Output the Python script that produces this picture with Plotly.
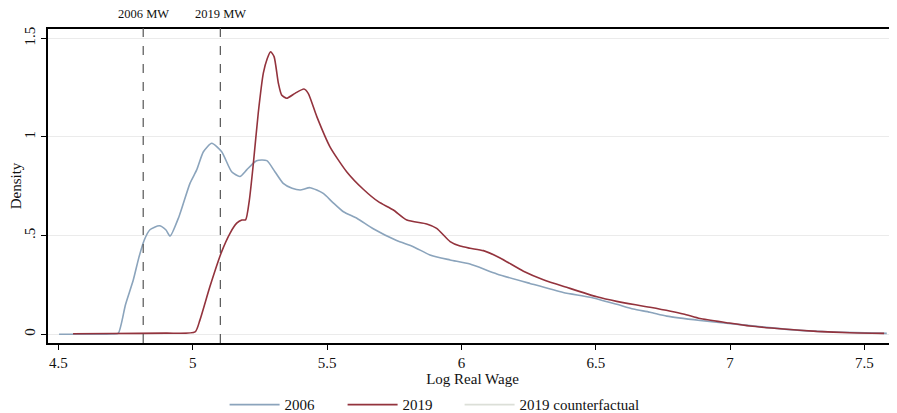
import plotly.graph_objects as go

x2006 = [4.503, 4.60, 4.70, 4.723, 4.75, 4.779, 4.80, 4.820, 4.841, 4.876, 4.90, 4.916, 4.949, 4.99, 5.015, 5.04, 5.071, 5.108, 5.145, 5.176, 5.201, 5.238, 5.276, 5.306, 5.337, 5.37, 5.40, 5.437, 5.486, 5.52, 5.561, 5.611, 5.672, 5.759, 5.821, 5.883, 5.958, 6.032, 6.132, 6.255, 6.379, 6.479, 6.578, 6.64, 6.702, 6.764, 6.888, 7.012, 7.136, 7.26, 7.384, 7.583]
y2006 = [0.0, 0.0, 0.002, 0.005, 0.15, 0.275, 0.39, 0.478, 0.53, 0.55, 0.53, 0.498, 0.596, 0.765, 0.833, 0.925, 0.968, 0.925, 0.824, 0.80, 0.833, 0.88, 0.88, 0.824, 0.765, 0.74, 0.731, 0.743, 0.714, 0.67, 0.621, 0.588, 0.535, 0.475, 0.444, 0.402, 0.377, 0.356, 0.306, 0.258, 0.212, 0.188, 0.152, 0.128, 0.112, 0.092, 0.07, 0.053, 0.035, 0.02, 0.012, 0.005]

x2019 = [4.555, 4.7, 4.9, 5.009, 5.027, 5.064, 5.108, 5.139, 5.164, 5.183, 5.197, 5.211, 5.226, 5.244, 5.263, 5.278, 5.29, 5.303, 5.319, 5.331, 5.35, 5.381, 5.414, 5.43, 5.462, 5.511, 5.573, 5.635, 5.691, 5.747, 5.797, 5.871, 5.908, 5.958, 5.995, 6.032, 6.082, 6.144, 6.231, 6.305, 6.392, 6.504, 6.578, 6.702, 6.826, 6.888, 6.987, 7.074, 7.198, 7.322, 7.446, 7.573]
y2019 = [0.003, 0.004, 0.006, 0.012, 0.072, 0.241, 0.419, 0.512, 0.563, 0.579, 0.58, 0.68, 0.867, 1.12, 1.323, 1.399, 1.432, 1.407, 1.272, 1.213, 1.196, 1.221, 1.243, 1.221, 1.103, 0.95, 0.824, 0.735, 0.672, 0.63, 0.579, 0.559, 0.537, 0.47, 0.447, 0.436, 0.424, 0.387, 0.32, 0.277, 0.238, 0.19, 0.167, 0.137, 0.103, 0.08, 0.059, 0.042, 0.027, 0.015, 0.008, 0.005]

mw_values = [4.816, 5.103]
mw_labels = ["2006 MW", "2019 MW"]

x_ticks = [4.5, 5, 5.5, 6, 6.5, 7, 7.5]
x_ticklabels = ["4.5", "5", "5.5", "6", "6.5", "7", "7.5"]
y_ticks = [0, 0.5, 1, 1.5]
y_ticklabels = ["0", ".5", "1", "1.5"]

FONT = "Liberation Serif"
BLUE = "#8ba4bc"
RED = "#93333d"
CF = "#dcdfd8"

fig = go.Figure()
fig.add_trace(go.Scatter(x=x2006, y=y2006, mode="lines", name="2006",
                         line=dict(color=BLUE, width=1.6, shape="spline", smoothing=0.6)))
fig.add_trace(go.Scatter(x=x2019, y=y2019, mode="lines", name="2019",
                         line=dict(color=RED, width=1.6, shape="spline", smoothing=0.6)))
fig.add_trace(go.Scatter(x=[None], y=[None], mode="lines", name="2019 counterfactual",
                         legend="legend2", line=dict(color=CF, width=1.6)))

for v, lab in zip(mw_values, mw_labels):
    fig.add_shape(type="line", x0=v, x1=v, xref="x", y0=0, y1=1.02, yref="paper",
                  line=dict(color="#555555", width=1.2, dash="dash"))
    fig.add_annotation(x=v, xref="x", y=1.047, yref="paper", text=lab, showarrow=False,
                       yanchor="middle", xanchor="center", borderpad=0,
                       font=dict(family=FONT, size=12.5, color="#111111"))

# the page body has an 8px margin, so the figure is sized to fill the remaining window
fig.update_layout(
    width=889, height=405,
    margin=dict(l=40, r=0, t=21, b=70, autoexpand=False),
    paper_bgcolor="white", plot_bgcolor="white",
    font=dict(family=FONT, size=15, color="#111111"),
    showlegend=True,
    legend=dict(orientation="h", x=0.208, xanchor="left", y=-0.197, yanchor="middle",
                font=dict(family=FONT, size=15), itemwidth=50,
                entrywidth=53, entrywidthmode="pixels", traceorder="normal"),
    legend2=dict(orientation="h", x=0.4848, xanchor="left", y=-0.197, yanchor="middle",
                 font=dict(family=FONT, size=15), itemwidth=50),
    xaxis=dict(range=[4.4617, 7.621], tickvals=x_ticks, ticktext=x_ticklabels,
               showline=True, linecolor="black", linewidth=1.5, mirror=True,
               ticks="outside", ticklen=5, tickcolor="black", showgrid=False, zeroline=False,
               automargin=False,
               title=dict(text="Log Real Wage", standoff=0, font=dict(family=FONT, size=15))),
    yaxis=dict(range=[-0.044, 1.547], tickvals=y_ticks, ticktext=y_ticklabels,
               tickangle=-90, showline=True, linecolor="black", linewidth=1.5,
               ticks="outside", ticklen=5, tickcolor="black", automargin=False,
               showgrid=True, gridcolor="#ebebeb", gridwidth=1, zeroline=False,
               title=dict(text="Density", standoff=0, font=dict(family=FONT, size=15))),
)

fig.write_html("out.html")
